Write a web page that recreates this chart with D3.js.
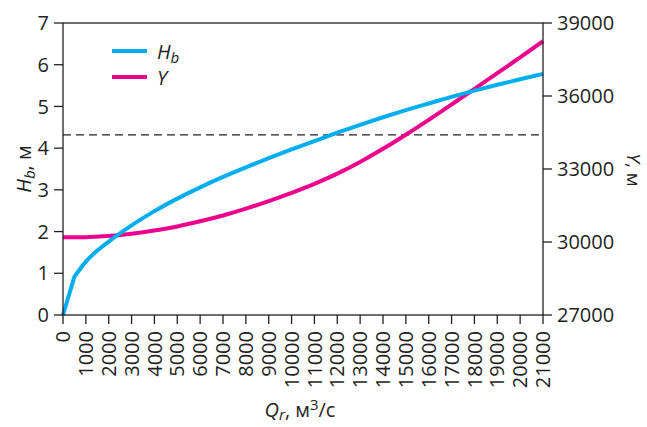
<!DOCTYPE html>
<html><head><meta charset="utf-8">
<script src="https://cdn.jsdelivr.net/npm/d3@7"></script>
<style>
html,body{margin:0;padding:0;background:#fff;}
svg{display:block;font-family:"Open Sans",sans-serif;}
</style></head>
<body>
<svg id="c" width="647" height="427"></svg>
<script>
// Data
const flow = [0, 500, 1000, 2000, 3000, 4000, 5000, 6000, 7000, 8000, 9000, 10000, 11000, 12000, 13000, 14000, 15000, 16000, 17000, 18000, 19000, 20000, 21000];
const hb = [0, 0.92, 1.28, 1.76, 2.15, 2.49, 2.79, 3.06, 3.31, 3.54, 3.76, 3.97, 4.17, 4.37, 4.56, 4.74, 4.91, 5.07, 5.23, 5.38, 5.52, 5.65, 5.78];
const yVal = [30200, 30200, 30200, 30250, 30340, 30470, 30640, 30850, 31090, 31370, 31680, 32020, 32390, 32810, 33290, 33830, 34410, 35020, 35650, 36290, 36940, 37590, 38250];
const dashedLevel = 4.32;
const xTicks = d3.range(0, 21001, 1000);
const leftTicks = [0, 1, 2, 3, 4, 5, 6, 7];
const rightTicks = [27000, 30000, 33000, 36000, 39000];

const svg = d3.select("#c");
const L = 63, R = 543, T = 23, B = 315;
const axisColor = "#231f20";
const blue = "#00aeef", pink = "#ec008c";
const fs = 20;

const x = d3.scaleLinear().domain([0, 21000]).range([L, R]);
const yl = d3.scaleLinear().domain([0, 7]).range([B, T]);
const yr = d3.scaleLinear().domain([27000, 39000]).range([B, T]);

// dashed line
svg.append("line").attr("x1", L).attr("x2", R).attr("y1", yl(dashedLevel)).attr("y2", yl(dashedLevel))
  .attr("stroke", axisColor).attr("stroke-width", 1.3).attr("stroke-dasharray", "8,5");

// curves
const pts = (vals, ys) => vals.map((v, i) => [x(flow[i]), ys(v)]);
const smooth = d3.line().curve(d3.curveMonotoneX);
const lineY = smooth(pts(yVal, yr));
const hPts = pts(hb, yl);
// straight first segment (kink at 500), smooth afterwards
const lineH = "M" + hPts[0][0] + "," + hPts[0][1] + "L" + smooth(hPts.slice(1)).slice(1);
svg.append("path").attr("d", lineY).attr("fill", "none").attr("stroke", pink).attr("stroke-width", 4);
svg.append("path").attr("d", lineH).attr("fill", "none").attr("stroke", blue).attr("stroke-width", 4)
  .attr("stroke-linejoin", "round");

// frame
svg.append("rect").attr("x", L).attr("y", T).attr("width", R - L).attr("height", B - T)
  .attr("fill", "none").attr("stroke", axisColor).attr("stroke-width", 1.3);

// x ticks
const gx = svg.append("g");
xTicks.forEach(t => {
  gx.append("line").attr("x1", x(t)).attr("x2", x(t)).attr("y1", B).attr("y2", B + 9)
    .attr("stroke", axisColor).attr("stroke-width", 1.3);
  gx.append("text").attr("transform", `translate(${x(t)},331) rotate(-90)`)
    .attr("text-anchor", "end").attr("dy", "0.36em").attr("font-size", fs).attr("fill", axisColor).text(t);
});
// left ticks
leftTicks.forEach(t => {
  svg.append("line").attr("x1", L - 9).attr("x2", L).attr("y1", yl(t)).attr("y2", yl(t))
    .attr("stroke", axisColor).attr("stroke-width", 1.3);
  svg.append("text").attr("x", 49).attr("y", yl(t)).attr("dy", "0.36em").attr("text-anchor", "end")
    .attr("font-size", fs).attr("fill", axisColor).text(t);
});
// right ticks
rightTicks.forEach(t => {
  svg.append("line").attr("x1", R).attr("x2", R + 9).attr("y1", yr(t)).attr("y2", yr(t))
    .attr("stroke", axisColor).attr("stroke-width", 1.3);
  svg.append("text").attr("x", 557).attr("y", yr(t)).attr("dy", "0.36em").attr("text-anchor", "start")
    .attr("font-size", fs).attr("fill", axisColor).text(t);
});

// axis titles
const lt = svg.append("text").attr("transform", "translate(31,169) rotate(-90)").attr("text-anchor", "middle")
  .attr("font-size", fs).attr("fill", axisColor);
lt.append("tspan").attr("font-style", "italic").text("H");
lt.append("tspan").attr("font-style", "italic").attr("font-size", fs * 0.75).attr("dy", 4).text("b");
lt.append("tspan").attr("dy", -4).text(", м");

const rt = svg.append("text").attr("transform", "translate(627,170) rotate(90)").attr("text-anchor", "middle")
  .attr("font-size", 19).attr("fill", axisColor);
rt.append("tspan").attr("font-style", "italic").text("Y");
rt.append("tspan").text(", м");

const bt = svg.append("text").attr("x", 300).attr("y", 417).attr("text-anchor", "middle")
  .attr("font-size", fs).attr("fill", axisColor);
bt.append("tspan").attr("font-style", "italic").text("Q");
bt.append("tspan").attr("font-style", "italic").attr("font-size", fs * 0.75).attr("dy", 3).text("r");
bt.append("tspan").attr("dy", -3).text(", м");
bt.append("tspan").attr("font-size", fs * 0.75).attr("dy", -7).text("3");
bt.append("tspan").attr("dy", 7).text("/с");

// legend
const legend = [{c: blue, main: "H", sub: "b", y: 51}, {c: pink, main: "Y", sub: "", y: 77}];
legend.forEach(d => {
  svg.append("line").attr("x1", 112).attr("x2", 147).attr("y1", d.y).attr("y2", d.y)
    .attr("stroke", d.c).attr("stroke-width", 4);
  const t = svg.append("text").attr("x", 157).attr("y", d.y + 8).attr("font-size", fs)
    .attr("font-style", "italic").attr("fill", axisColor);
  t.append("tspan").text(d.main);
  if (d.sub) t.append("tspan").attr("font-size", fs * 0.75).attr("dy", 4).text(d.sub);
});
</script>
</body></html>
